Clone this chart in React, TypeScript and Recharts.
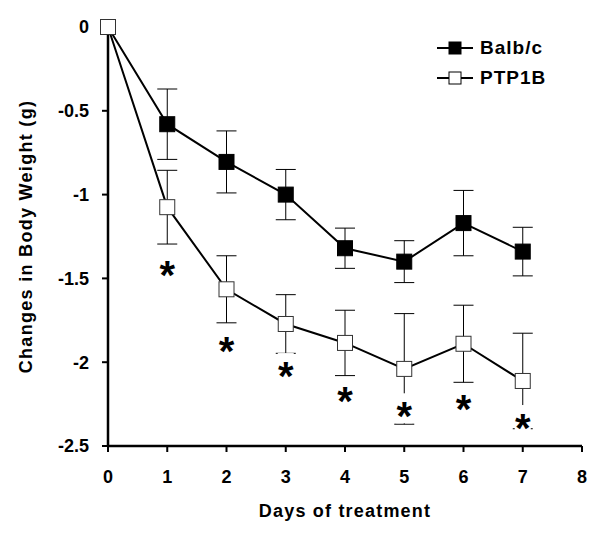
import React from 'react'
import { ComposedChart, Line, Scatter, ErrorBar, XAxis, YAxis, Legend } from 'recharts'

const DAYS = [0, 1, 2, 3, 4, 5, 6, 7]
const BALB_MEAN = [0, -0.58, -0.805, -1.0, -1.32, -1.4, -1.17, -1.34]
const BALB_SEM = [0, 0.21, 0.185, 0.15, 0.12, 0.125, 0.195, 0.145]
const PTP_MEAN = [0, -1.075, -1.565, -1.772, -1.885, -2.04, -1.89, -2.112]
const PTP_SEM = [0, 0.22, 0.2, 0.175, 0.195, 0.33, 0.23, 0.285]
// significance asterisks under PTP1B points (days 1-7)
const STAR_DAYS = [1, 2, 3, 4, 5, 6, 7]
const STAR_Y = [-1.43, -1.885, -2.035, -2.185, -2.275, -2.23, -2.345]
const X_TICKS = [0, 1, 2, 3, 4, 5, 6, 7, 8]
const Y_TICKS = [0, -0.5, -1, -1.5, -2, -2.5]
const SERIES = [
  { label: 'Balb/c', fill: '#000' },
  { label: 'PTP1B', fill: '#fff' },
]

const FONT = '"Liberation Sans", Arial, sans-serif'

const rows = DAYS.map((day, i) => ({
  day,
  balb: BALB_MEAN[i],
  balbErr: BALB_SEM[i],
  ptp: PTP_MEAN[i],
  ptpErr: PTP_SEM[i],
}))

const stars = STAR_DAYS.map((day, i) => ({ day, star: STAR_Y[i] }))

function squareDot(fill: string) {
  return (props: any) => {
    const { cx, cy, index } = props
    if (cx == null || cy == null) return <g key={`d${index}`} />
    return (
      <rect
        key={`d${index}`}
        x={cx - 7.5}
        y={cy - 7.5}
        width={15}
        height={15}
        fill={fill}
        stroke={fill === '#000' ? '#000' : '#333'}
        strokeWidth={1}
      />
    )
  }
}

function StarShape(props: any) {
  const { cx, cy } = props
  if (cx == null || cy == null || isNaN(cy)) return <g />
  return (
    <g>
      <rect x={cx - 8} y={cy - 15} width={16} height={30} fill="#fff" />
      <text
        x={cx}
        y={cy + 22}
        textAnchor="middle"
        fontFamily={FONT}
        fontWeight={700}
        fontSize={40}
        fill="#000"
      >
        *
      </text>
    </g>
  )
}

function LegendBox() {
  return (
    <div style={{ fontFamily: FONT, fontWeight: 700, fontSize: 19, color: '#000' }}>
      {SERIES.map((s) => (
        <div key={s.label} style={{ display: 'flex', alignItems: 'center', height: 30 }}>
          <svg width={37} height={14} style={{ display: 'block' }}>
            <line x1={0} y1={7} x2={36} y2={7} stroke="#000" strokeWidth={2} />
            <rect x={12} y={1} width={12} height={12} fill={s.fill} stroke="#000" strokeWidth={1} />
          </svg>
          <span style={{ marginLeft: 6, letterSpacing: 1 }}>{s.label}</span>
        </div>
      ))}
    </div>
  )
}

export default function App() {
  const tick = { fill: '#000', fontSize: 18, fontWeight: 700, fontFamily: FONT }
  return (
    <div style={{ position: 'absolute', left: 0, top: 0, background: '#fff' }}>
      <ComposedChart
        width={601}
        height={534}
        data={rows}
        margin={{ top: 27, right: 19, bottom: 58, left: 38 }}
      >
        <XAxis
          dataKey="day"
          type="number"
          domain={[0, 8]}
          ticks={X_TICKS}
          height={30}
          tick={tick}
          tickSize={6}
          tickMargin={18}
          axisLine={{ stroke: '#000', strokeWidth: 2.5 }}
          tickLine={{ stroke: '#000', strokeWidth: 2 }}
          label={{
            content: ({ viewBox }: any) => (
              <text
                x={viewBox.x + viewBox.width / 2}
                y={viewBox.y + 71}
                textAnchor="middle"
                fontFamily={FONT}
                fontWeight={700}
                fontSize={18}
                letterSpacing={1.2}
                fill="#000"
              >
                Days of treatment
              </text>
            ),
          }}
        />
        <YAxis
          dataKey="star"
          type="number"
          domain={[-2.5, 0]}
          ticks={Y_TICKS}
          width={70}
          tick={tick}
          tickSize={6}
          tickMargin={13}
          axisLine={{ stroke: '#000', strokeWidth: 2.5 }}
          tickLine={{ stroke: '#000', strokeWidth: 2 }}
          label={{
            content: ({ viewBox }: any) => {
              const cx = viewBox.x - 12
              const cy = viewBox.y + viewBox.height / 2
              return (
                <text
                  x={cx}
                  y={cy}
                  transform={`rotate(-90 ${cx} ${cy})`}
                  textAnchor="middle"
                  dominantBaseline="central"
                  fontFamily={FONT}
                  fontWeight={700}
                  fontSize={18}
                  letterSpacing={1.3}
                  fill="#000"
                >
                  Changes in Body Weight (g)
                </text>
              )
            },
          }}
        />
        <Legend
          layout="vertical"
          align="center"
          verticalAlign="middle"
          content={() => <LegendBox />}
          wrapperStyle={{ left: 437, top: 33, width: 150 }}
        />
        <Line
          dataKey="balb"
          type="linear"
          stroke="#000"
          strokeWidth={2}
          dot={squareDot('#000')}
          activeDot={false}
          isAnimationActive={false}
        >
          <ErrorBar
            dataKey="balbErr"
            width={10}
            stroke="#000"
            strokeWidth={1}
            direction="y"
            zIndex={300}
          />
        </Line>
        <Line
          dataKey="ptp"
          type="linear"
          stroke="#000"
          strokeWidth={2}
          dot={squareDot('#fff')}
          activeDot={false}
          isAnimationActive={false}
        >
          <ErrorBar
            dataKey="ptpErr"
            width={10}
            stroke="#000"
            strokeWidth={1}
            direction="y"
            zIndex={300}
          />
        </Line>
        <Scatter
          data={stars}
          dataKey="star"
          shape={StarShape}
          legendType="none"
          zIndex={700}
          isAnimationActive={false}
        />
      </ComposedChart>
    </div>
  )
}
